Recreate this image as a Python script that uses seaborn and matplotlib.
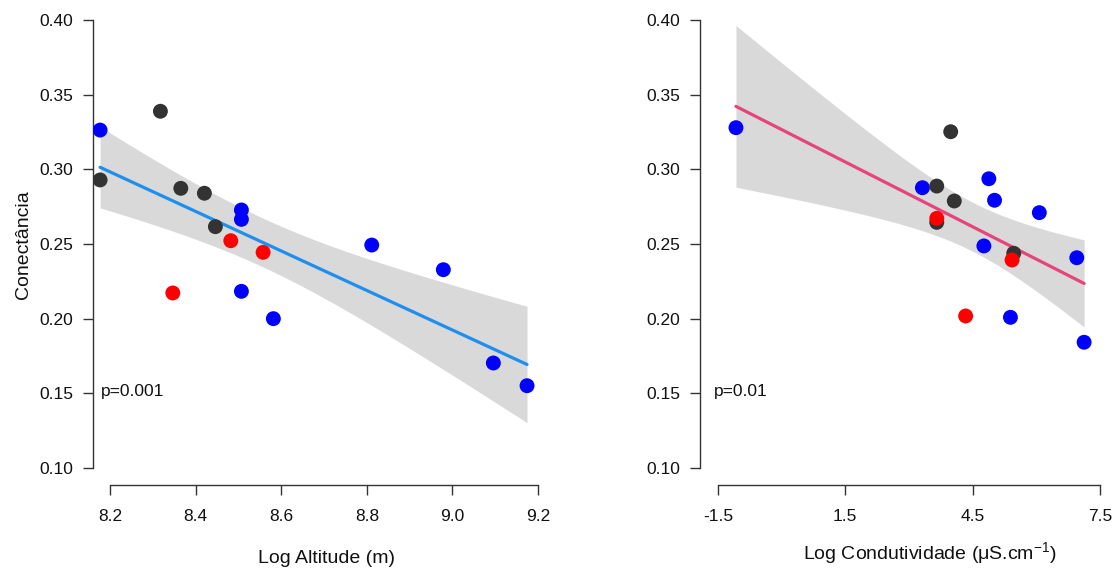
import numpy as np
import pandas as pd
import matplotlib
matplotlib.use("Agg")
import matplotlib.pyplot as plt
import seaborn as sns

# ---------------- data ----------------
# Left panel: Log Altitude (m) vs Conectância
alt_grupo = ["G1", "G2", "G1", "G1", "G1", "G2", "G2", "G1", "G3",
             "G2", "G3", "G2", "G3", "G2", "G2", "G2", "G2"]
alt_x = [8.3175, 8.1766, 8.1766, 8.3652, 8.4203, 8.5068, 8.5068, 8.4460, 8.4820,
         8.8114, 8.5575, 8.9787, 8.3465, 8.5068, 8.5815, 9.0956, 9.1743]
alt_y = [0.3389, 0.3263, 0.2929, 0.2873, 0.2840, 0.2728, 0.2665, 0.2616, 0.2522,
         0.2493, 0.2444, 0.2328, 0.2172, 0.2183, 0.2000, 0.1703, 0.1551]

# Right panel: Log Condutividade vs Conectância
cond_grupo = ["G2", "G1", "G2", "G2", "G1", "G1", "G2", "G2", "G3",
              "G1", "G2", "G1", "G3", "G2", "G3", "G2", "G2"]
cond_x = [-1.077, 3.986, 4.885, 3.319, 3.657, 4.070, 5.019, 6.075, 3.657,
          3.657, 4.768, 5.472, 5.432, 6.958, 4.338, 5.394, 7.131]
cond_y = [0.3279, 0.3252, 0.2937, 0.2877, 0.2888, 0.2788, 0.2793, 0.2710, 0.2672,
          0.2645, 0.2487, 0.2438, 0.2393, 0.2408, 0.2018, 0.2009, 0.1842]

y_ticks = [0.10, 0.15, 0.20, 0.25, 0.30, 0.35, 0.40]
y_ticklabels = ["0.10", "0.15", "0.20", "0.25", "0.30", "0.35", "0.40"]
alt_ticks = [8.2, 8.4, 8.6, 8.8, 9.0, 9.2]
alt_ticklabels = ["8.2", "8.4", "8.6", "8.8", "9.0", "9.2"]
cond_ticks = [-1.5, 1.5, 4.5, 7.5]
cond_ticklabels = ["-1.5", "1.5", "4.5", "7.5"]

group_order = ["G2", "G1", "G3"]
palette = {"G1": "#333333", "G2": "#0000FF", "G3": "#FF0000"}

T975_DF15 = 2.1314  # Student t quantile (0.975, df = n - 2 = 15)

# ---------------- style ----------------
sns.set_style("white")
plt.rcParams["font.family"] = ["Liberation Sans", "DejaVu Sans"]
plt.rcParams["mathtext.fontset"] = "custom"
plt.rcParams["mathtext.rm"] = "Liberation Sans"
plt.rcParams["mathtext.it"] = "Liberation Sans:italic"

W, H = 1115, 570
fig = plt.figure(figsize=(W / 100, H / 100), dpi=100)

def px_axes(x0, x1, y_top, y_bot):
    return [x0 / W, (H - y_bot) / H, (x1 - x0) / W, (y_bot - y_top) / H]

ax1 = fig.add_axes(px_axes(93, 546.6, 5.1, 485))
ax2 = fig.add_axes(px_axes(700, 1104, 5.1, 485))

def panel(ax, x, y, grp, line_color, xlim, xticks, xticklabels, xlabel, xlab_x, xlab_y,
          ptxt_x, ptxt):
    df = pd.DataFrame({"x": x, "y": y, "grupo": grp})
    # analytic 95% confidence band of the linear fit
    xa, ya = np.asarray(x), np.asarray(y)
    n = len(xa)
    b1, b0 = np.polyfit(xa, ya, 1)
    resid = ya - (b0 + b1 * xa)
    s = np.sqrt(np.sum(resid ** 2) / (n - 2))
    grid = np.linspace(xa.min(), xa.max(), 200)
    se = s * np.sqrt(1 / n + (grid - xa.mean()) ** 2 / np.sum((xa - xa.mean()) ** 2))
    fit = b0 + b1 * grid
    ax.fill_between(grid, fit - T975_DF15 * se, fit + T975_DF15 * se,
                    color="#D9D9D9", lw=0, zorder=1)
    sns.regplot(data=df, x="x", y="y", ax=ax, scatter=False, ci=None,
                color=line_color, line_kws={"lw": 2.3, "zorder": 2.5})
    df["ord"] = df["grupo"].map({g: i for i, g in enumerate(group_order)})
    df = df.sort_values("ord", kind="stable")
    sns.scatterplot(data=df, x="x", y="y", hue="grupo", palette=palette, s=115,
                    edgecolor="none", linewidth=0, legend=False, ax=ax, zorder=3)
    ax.set_xlim(*xlim)
    ax.set_ylim(0.0886, 0.41)
    ax.set_yticks(y_ticks)
    ax.set_yticklabels(y_ticklabels)
    ax.set_xticks(xticks)
    ax.set_xticklabels(xticklabels)
    for sp in ["top", "right"]:
        ax.spines[sp].set_visible(False)
    ax.spines["left"].set_bounds(0.10, 0.40)
    ax.spines["bottom"].set_bounds(xticks[0], xticks[-1])
    for sp in ["left", "bottom"]:
        ax.spines[sp].set_color("#333333")
        ax.spines[sp].set_linewidth(1.0)
    ax.tick_params(axis="both", direction="out", length=7.4, width=1.0, color="#333333",
                   labelsize=12.5, labelcolor="#111111", bottom=True, left=True)
    ax.tick_params(axis="y", pad=7)
    ax.tick_params(axis="x", pad=10)
    ax.set_xlabel(xlabel, fontsize=14, color="#111111")
    ax.xaxis.set_label_coords(xlab_x, xlab_y)
    ax.set_ylabel("")
    ax.text(ptxt_x, 0.151, ptxt, fontsize=12.5, color="#111111", va="center", ha="left")

panel(ax1, alt_x, alt_y, alt_grupo, "#1E8FEF", (8.16, 9.22), alt_ticks, alt_ticklabels,
      "Log Altitude (m)", 0.515, -0.135, 8.178, "p=0.001")
panel(ax2, cond_x, cond_y, cond_grupo, "#E5457A", (-1.925, 7.6), cond_ticks, cond_ticklabels,
      r"Log Condutividade (μS.cm$^{-1}$)", 0.569, -0.115, -1.60, "p=0.01")

ax1.set_ylabel("Conectância", fontsize=14, color="#111111")
ax1.yaxis.set_label_coords((32 - 93) / 453.6, 0.5)

fig.savefig("out.png", dpi=100)
